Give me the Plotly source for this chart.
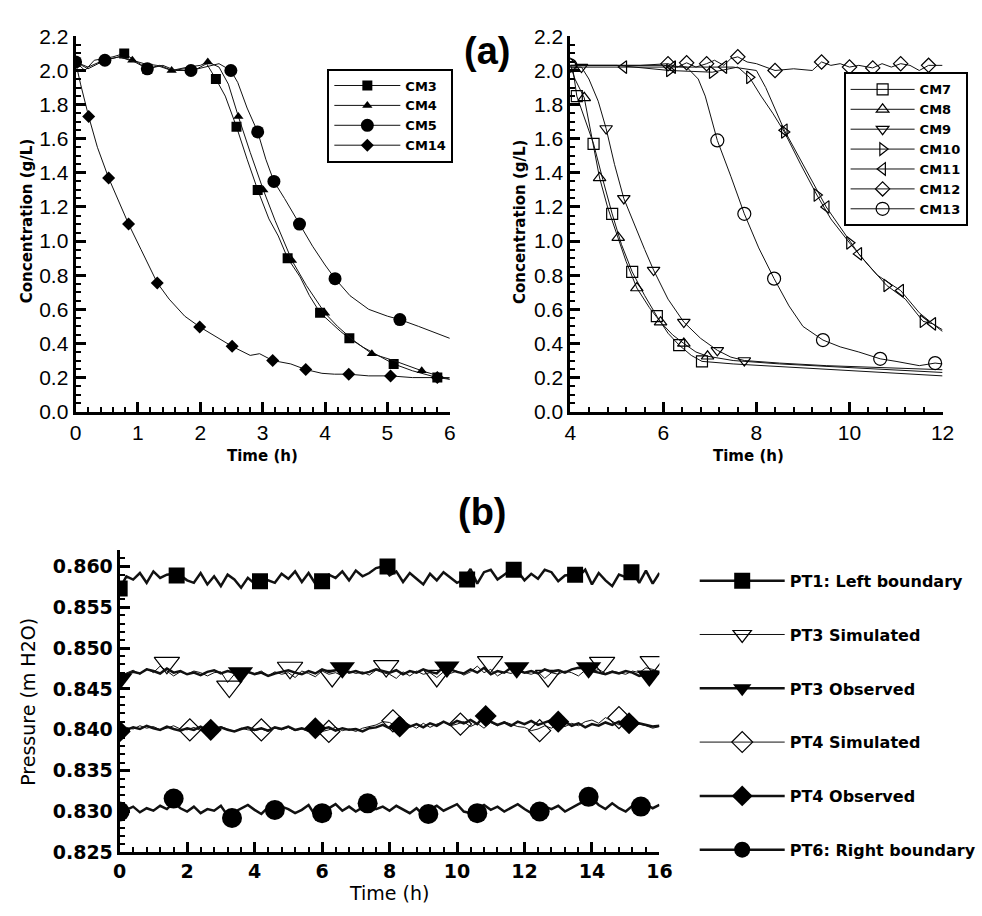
import plotly.graph_objects as go

W, H = 982, 916

# ---------------- (a) left panel: CM3, CM4, CM5, CM14 ----------------
cm3_t = [0, 0.15, 0.3, 0.47, 0.6, 0.78, 0.95, 1.15, 1.35, 1.55, 1.75, 1.9, 2.1, 2.25, 2.4, 2.58, 2.75,
         2.92, 3.1, 3.25, 3.4, 3.6, 3.75, 3.92, 4.1, 4.25, 4.39, 4.6, 4.85, 5.1, 5.4, 5.8, 6.0]
cm3_c = [2.05, 2.0, 2.06, 2.07, 2.08, 2.10, 2.06, 2.01, 2.03, 2.0, 2.01, 2.0, 2.04, 1.95, 1.85, 1.67, 1.48,
         1.30, 1.13, 1.03, 0.90, 0.79, 0.68, 0.58, 0.52, 0.47, 0.43, 0.38, 0.33, 0.28, 0.24, 0.20, 0.19]
cm3_mt = [0.78, 1.15, 2.25, 2.58, 2.92, 3.40, 3.92, 4.39, 5.1, 5.8]
cm3_mc = [2.10, 2.01, 1.95, 1.67, 1.30, 0.90, 0.58, 0.43, 0.28, 0.20]

cm4_t = [0, 0.2, 0.45, 0.7, 0.91, 1.1, 1.3, 1.54, 1.8, 2.0, 2.12, 2.3, 2.45, 2.61, 2.8, 3.01, 3.2,
         3.47, 3.7, 4.0, 4.2, 4.45, 4.75, 5.1, 5.55, 5.8, 6.0]
cm4_c = [2.05, 2.02, 2.06, 2.08, 2.06, 2.04, 2.03, 2.0, 2.02, 2.03, 2.05, 2.02, 1.92, 1.73, 1.52, 1.30, 1.12,
         0.886, 0.74, 0.577, 0.50, 0.42, 0.34, 0.30, 0.24, 0.21, 0.19]
cm4_mt = [0.91, 1.54, 2.12, 2.61, 3.01, 3.47, 4.0, 4.75, 5.55]
cm4_mc = [2.06, 2.0, 2.05, 1.73, 1.30, 0.886, 0.577, 0.34, 0.24]

cm5_t = [0, 0.2, 0.47, 0.7, 0.95, 1.15, 1.4, 1.6, 1.85, 2.1, 2.3, 2.49, 2.6, 2.75, 2.92, 3.05, 3.18,
         3.35, 3.59, 3.8, 4.0, 4.16, 4.4, 4.7, 5.0, 5.2, 5.5, 5.8, 6.0]
cm5_c = [2.05, 2.01, 2.06, 2.08, 2.05, 2.01, 2.03, 2.0, 2.0, 2.02, 2.04, 2.0, 1.93, 1.78, 1.64, 1.48, 1.35,
         1.25, 1.10, 0.97, 0.86, 0.78, 0.68, 0.60, 0.56, 0.54, 0.50, 0.46, 0.43]
cm5_mt = [0, 0.47, 1.15, 1.85, 2.49, 2.92, 3.18, 3.59, 4.16, 5.2]
cm5_mc = [2.05, 2.06, 2.01, 2.0, 2.0, 1.64, 1.35, 1.10, 0.78, 0.54]

cm14_t = [0, 0.08, 0.21, 0.35, 0.53, 0.7, 0.85, 1.05, 1.31, 1.5, 1.75, 1.99, 2.2, 2.51, 2.8, 2.95, 3.16,
          3.45, 3.69, 3.95, 4.15, 4.38, 4.7, 5.05, 5.4, 5.8, 6.0]
cm14_c = [2.05, 1.92, 1.73, 1.55, 1.37, 1.23, 1.10, 0.95, 0.755, 0.66, 0.56, 0.497, 0.45, 0.383, 0.33, 0.34,
          0.30, 0.28, 0.247, 0.225, 0.22, 0.22, 0.21, 0.21, 0.20, 0.20, 0.20]
cm14_mt = [0, 0.21, 0.53, 0.85, 1.31, 1.99, 2.51, 3.16, 3.69, 4.38, 5.05, 5.8]
cm14_mc = [2.05, 1.73, 1.37, 1.10, 0.755, 0.497, 0.383, 0.30, 0.247, 0.22, 0.21, 0.20]

# ---------------- (a) right panel: CM7 ... CM13 ----------------
cm7_t = [4, 4.06, 4.14, 4.3, 4.5, 4.7, 4.9, 5.1, 5.33, 5.6, 5.86, 6.1, 6.34, 6.6, 6.83, 7.5, 8.5, 9.5, 10.5, 11.5, 12]
cm7_c = [2.03, 2.0, 1.85, 1.72, 1.57, 1.36, 1.16, 0.98, 0.82, 0.68, 0.56, 0.46, 0.39, 0.33, 0.295, 0.28, 0.265,
         0.25, 0.235, 0.22, 0.21]
cm7_mt = [4.14, 4.5, 4.9, 5.33, 5.86, 6.34, 6.83]
cm7_mc = [1.85, 1.57, 1.16, 0.82, 0.56, 0.39, 0.295]

cm8_t = [4, 4.1, 4.3, 4.45, 4.63, 4.8, 5.03, 5.2, 5.43, 5.7, 5.94, 6.2, 6.44, 6.7, 6.95, 7.5, 8.5, 9.5, 10.5, 11.5, 12]
cm8_c = [2.03, 1.95, 1.84, 1.62, 1.37, 1.20, 1.02, 0.88, 0.725, 0.61, 0.525, 0.45, 0.40, 0.35, 0.325, 0.30, 0.28,
         0.265, 0.25, 0.235, 0.23]
cm8_mt = [4.3, 4.63, 5.03, 5.43, 5.94, 6.44, 6.95]
cm8_mc = [1.84, 1.37, 1.02, 0.725, 0.525, 0.40, 0.325]

cm9_t = [4, 4.24, 4.4, 4.6, 4.77, 4.95, 5.15, 5.4, 5.6, 5.79, 6.1, 6.44, 6.8, 7.16, 7.45, 7.74, 8.5, 9.5, 10.5, 11.5, 12]
cm9_c = [2.02, 2.02, 1.95, 1.82, 1.66, 1.45, 1.25, 1.08, 0.95, 0.83, 0.66, 0.525, 0.43, 0.36, 0.32, 0.30, 0.285,
         0.27, 0.26, 0.25, 0.246]
cm9_mt = [4.24, 4.77, 5.15, 5.79, 6.44, 7.16, 7.74]
cm9_mc = [2.02, 1.66, 1.25, 0.83, 0.525, 0.36, 0.30]

cm10_t = [4, 5, 6.13, 7.05, 7.6, 7.85, 8.1, 8.35, 8.6, 8.95, 9.3, 9.6, 10.0, 10.4, 10.8, 11.2, 11.58, 11.79, 12]
cm10_c = [2.03, 2.03, 2.0, 1.99, 2.02, 1.96, 1.85, 1.75, 1.64, 1.45, 1.27, 1.13, 0.99, 0.86, 0.74, 0.66, 0.53,
          0.515, 0.47]
cm10_mt = [6.13, 7.05, 7.85, 8.6, 9.3, 10.0, 10.8, 11.58]
cm10_mc = [2.0, 1.99, 1.96, 1.64, 1.27, 0.99, 0.74, 0.53]

cm11_t = [4, 5.15, 6.5, 7.5, 8.0, 8.2, 8.6, 9.0, 9.5, 10.2, 10.6, 11.1, 11.5, 11.79, 12]
cm11_c = [2.02, 2.02, 2.02, 2.02, 2.0, 1.9, 1.65, 1.45, 1.20, 0.925, 0.80, 0.71, 0.58, 0.515, 0.48]
cm11_mt = [5.15, 6.2, 7.3, 8.6, 9.5, 10.2, 11.1, 11.79]
cm11_mc = [2.02, 2.02, 2.02, 1.65, 1.20, 0.925, 0.71, 0.515]

cm12_t = [4, 4.5, 5.0, 5.5, 6.1, 6.3, 6.5, 6.7, 6.93, 7.1, 7.3, 7.45, 7.6, 7.8, 8.0, 8.4, 8.8, 9.2, 9.4, 9.6,
          9.8, 10.0, 10.2, 10.5, 10.7, 10.9, 11.1, 11.3, 11.5, 11.7, 12]
cm12_c = [2.03, 2.03, 2.03, 2.03, 2.04, 2.02, 2.045, 2.02, 2.04, 2.06, 2.03, 2.07, 2.08, 2.05, 2.04, 2.0, 2.01,
          2.0, 2.05, 2.03, 2.04, 2.02, 2.03, 2.015, 2.04, 2.02, 2.04, 2.03, 2.0, 2.03, 2.03]
cm12_mt = [4.0, 6.1, 6.5, 6.93, 7.6, 8.4, 9.4, 10.0, 10.5, 11.1, 11.7]
cm12_mc = [2.03, 2.04, 2.045, 2.04, 2.08, 2.0, 2.05, 2.02, 2.015, 2.04, 2.03]

cm13_t = [4, 5, 6, 6.5, 6.75, 6.9, 7.0, 7.16, 7.45, 7.74, 8.05, 8.38, 8.7, 9.0, 9.43, 9.8, 10.2, 10.66, 11.0,
          11.5, 11.84, 12]
cm13_c = [2.03, 2.03, 2.03, 2.02, 1.95, 1.85, 1.75, 1.59, 1.38, 1.16, 0.96, 0.78, 0.62, 0.50, 0.42, 0.38, 0.35,
          0.31, 0.295, 0.27, 0.285, 0.28]
cm13_mt = [4.0, 7.16, 7.74, 8.38, 9.43, 10.66, 11.84]
cm13_mc = [2.03, 1.59, 1.16, 0.78, 0.42, 0.31, 0.285]

# ---------------- (b) pressure records, sampled every 0.2 h ----------------
time_h = [round(i * 0.2, 1) for i in range(81)]

pt1_obs = [0.8573, 0.8588, 0.8584, 0.8592, 0.8580, 0.8594, 0.8586, 0.8590, 0.8591, 0.8589,
           0.8583, 0.8580, 0.8592, 0.8578, 0.8588, 0.8576, 0.8590, 0.8584, 0.8574, 0.8586,
           0.8579, 0.8582, 0.8583, 0.8580, 0.8591, 0.8585, 0.8594, 0.8581, 0.8592, 0.8579,
           0.8582, 0.8590, 0.8586, 0.8594, 0.8583, 0.8595, 0.8588, 0.8592, 0.8598, 0.8600,
           0.8589, 0.8594, 0.8581, 0.8592, 0.8585, 0.8578, 0.8591, 0.8583, 0.8593, 0.8586,
           0.8580, 0.8584, 0.8597, 0.8579, 0.8593, 0.8596, 0.8584, 0.8590, 0.8596, 0.8594,
           0.8583, 0.8591, 0.8585, 0.8596, 0.8593, 0.8582, 0.8589, 0.8590, 0.8588, 0.8596,
           0.8578, 0.8592, 0.8583, 0.8576, 0.8590, 0.8587, 0.8594, 0.8580, 0.8595, 0.8579,
           0.8592]
pt3_sim = [0.8466, 0.8470, 0.8473, 0.8468, 0.8475, 0.8470, 0.8478, 0.8472, 0.8466, 0.8471,
           0.8468, 0.8472, 0.8470, 0.8466, 0.8470, 0.8471, 0.8458, 0.8468, 0.8472, 0.8470,
           0.8469, 0.8472, 0.8466, 0.8471, 0.8468, 0.8470, 0.8464, 0.8472, 0.8469, 0.8465,
           0.8472, 0.8468, 0.8470, 0.8466, 0.8472, 0.8469, 0.8471, 0.8467, 0.8473, 0.8470,
           0.8468, 0.8463, 0.8471, 0.8466, 0.8472, 0.8468, 0.8470, 0.8464, 0.8471, 0.8469,
           0.8472, 0.8467, 0.8471, 0.8478, 0.8470, 0.8474, 0.8466, 0.8471, 0.8469, 0.8473,
           0.8470, 0.8468, 0.8471, 0.8463, 0.8470, 0.8468, 0.8472, 0.8470, 0.8466, 0.8473,
           0.8471, 0.8474, 0.8469, 0.8472, 0.8470, 0.8468, 0.8472, 0.8470, 0.8476, 0.8474,
           0.8471]
pt3_obs = [0.8462, 0.8468, 0.8471, 0.8469, 0.8474, 0.8472, 0.8469, 0.8475, 0.8470, 0.8472,
           0.8468, 0.8470, 0.8467, 0.8471, 0.8473, 0.8469, 0.8472, 0.8470, 0.8470, 0.8471,
           0.8468, 0.8470, 0.8466, 0.8469, 0.8471, 0.8473, 0.8470, 0.8468, 0.8472, 0.8469,
           0.8474, 0.8471, 0.8473, 0.8476, 0.8470, 0.8472, 0.8469, 0.8471, 0.8474, 0.8472,
           0.8470, 0.8473, 0.8468, 0.8472, 0.8470, 0.8474, 0.8471, 0.8469, 0.8477, 0.8474,
           0.8471, 0.8469, 0.8474, 0.8470, 0.8476, 0.8468, 0.8472, 0.8470, 0.8476, 0.8473,
           0.8470, 0.8472, 0.8469, 0.8474, 0.8471, 0.8473, 0.8470, 0.8474, 0.8476, 0.8475,
           0.8472, 0.8470, 0.8468, 0.8471, 0.8469, 0.8472, 0.8470, 0.8466, 0.8468, 0.8472,
           0.8469]
pt4_sim = [0.8400, 0.8403, 0.8401, 0.8405, 0.8402, 0.8404, 0.8400, 0.8402, 0.8405, 0.8401,
           0.8400, 0.8403, 0.8399, 0.8402, 0.8400, 0.8404, 0.8401, 0.8398, 0.8402, 0.8400,
           0.8399, 0.8401, 0.8398, 0.8402, 0.8400, 0.8403, 0.8399, 0.8401, 0.8398, 0.8402,
           0.8398, 0.8400, 0.8403, 0.8399, 0.8401, 0.8398, 0.8402, 0.8404, 0.8406, 0.8410,
           0.8409, 0.8404, 0.8410, 0.8406, 0.8402, 0.8408, 0.8403, 0.8407, 0.8410, 0.8405,
           0.8407, 0.8410, 0.8404, 0.8408, 0.8402, 0.8409, 0.8405, 0.8410, 0.8407, 0.8404,
           0.8403, 0.8399, 0.8401, 0.8405, 0.8402, 0.8407, 0.8404, 0.8408, 0.8405, 0.8410,
           0.8412, 0.8408, 0.8415, 0.8410, 0.8406, 0.8409, 0.8404, 0.8407, 0.8405, 0.8402,
           0.8404]
pt4_obs = [0.8398, 0.8400, 0.8403, 0.8401, 0.8405, 0.8402, 0.8400, 0.8404, 0.8401, 0.8399,
           0.8402, 0.8400, 0.8404, 0.8399, 0.8401, 0.8403, 0.8400, 0.8398, 0.8401, 0.8403,
           0.8400, 0.8402, 0.8399, 0.8403, 0.8401, 0.8404, 0.8400, 0.8402, 0.8399, 0.8402,
           0.8401, 0.8403, 0.8399, 0.8402, 0.8400, 0.8401, 0.8398, 0.8402, 0.8403, 0.8406,
           0.8402, 0.8405, 0.8409, 0.8404, 0.8407, 0.8403, 0.8408, 0.8405, 0.8410, 0.8406,
           0.8411, 0.8408, 0.8412, 0.8407, 0.8417, 0.8410, 0.8406, 0.8409, 0.8405, 0.8410,
           0.8407, 0.8411, 0.8406, 0.8409, 0.8412, 0.8408, 0.8410, 0.8405, 0.8408, 0.8403,
           0.8407, 0.8405, 0.8409, 0.8406, 0.8410, 0.8407, 0.8405, 0.8408, 0.8406, 0.8404,
           0.8405]
pt6_obs = [0.8300, 0.8302, 0.8306, 0.8299, 0.8304, 0.8301, 0.8307, 0.8303, 0.8311, 0.8304,
           0.8300, 0.8306, 0.8298, 0.8303, 0.8301, 0.8307, 0.8295, 0.8299, 0.8304, 0.8308,
           0.8302, 0.8297, 0.8305, 0.8300, 0.8306, 0.8303, 0.8298, 0.8302, 0.8308, 0.8295,
           0.8299, 0.8304, 0.8309, 0.8301, 0.8306, 0.8300, 0.8305, 0.8308, 0.8303, 0.8306,
           0.8301, 0.8307, 0.8302, 0.8298, 0.8304, 0.8296, 0.8303, 0.8307, 0.8301, 0.8305,
           0.8309, 0.8300, 0.8298, 0.8304, 0.8308, 0.8302, 0.8306, 0.8300, 0.8304, 0.8309,
           0.8303, 0.8298, 0.8301, 0.8306, 0.8303, 0.8307, 0.8300, 0.8305, 0.8309, 0.8313,
           0.8316, 0.8308, 0.8303, 0.8310, 0.8304, 0.8300, 0.8307, 0.8305, 0.8309, 0.8304,
           0.8308]

# symbol positions along each pressure record
pt1_mt = [0, 1.69, 4.16, 6.0, 7.94, 10.3, 11.68, 13.5, 15.17]
pt1_mv = [0.8573, 0.8589, 0.8582, 0.8582, 0.8600, 0.8584, 0.8596, 0.8590, 0.8593]
pt3s_mt = [1.4, 3.25, 5.05, 6.3, 7.9, 9.4, 10.98, 12.7, 14.3, 15.8]
pt3s_mv = [0.8482, 0.8453, 0.8476, 0.8466, 0.8478, 0.8466, 0.8483, 0.8466, 0.8482, 0.8483]
pt3o_mt = [0, 3.58, 6.6, 9.7, 11.77, 13.9, 15.7]
pt3o_mv = [0.8462, 0.8470, 0.8476, 0.8477, 0.8476, 0.8476, 0.8466]
pt4s_mt = [2.08, 4.2, 6.2, 8.1, 10.1, 12.45, 14.8]
pt4s_mv = [0.8400, 0.8400, 0.8398, 0.8411, 0.8407, 0.8399, 0.8415]
pt4o_mt = [0, 2.7, 5.8, 8.3, 10.85, 13.0, 15.1]
pt4o_mv = [0.8398, 0.8400, 0.8402, 0.8404, 0.8417, 0.8410, 0.8408]
pt6_mt = [0, 1.6, 3.33, 4.6, 6.0, 7.35, 9.15, 10.6, 12.45, 13.9, 15.45]
pt6_mv = [0.8300, 0.8316, 0.8292, 0.8302, 0.8298, 0.8310, 0.8297, 0.8298, 0.8300, 0.8318, 0.8306]

pressure_ticks = [0.825, 0.830, 0.835, 0.840, 0.845, 0.850, 0.855, 0.860]


def px_x(p):
    return p / W


def px_y(p):
    return 1 - p / H


fig = go.Figure()


def spaced(t, v):
    """Interleave gaps so symbols are not joined to each other."""
    xs, ys = [], []
    for a, b in zip(t, v):
        xs += [a, None]
        ys += [b, None]
    return xs, ys


def add_series(name, t, v, mt, mv, xa, ya, legend, symbol, size, lw, open_sym=False, color="#111"):
    fig.add_trace(go.Scatter(x=t, y=v, mode="lines", xaxis=xa, yaxis=ya,
                             line=dict(color=color, width=lw), showlegend=False, hoverinfo="skip"))
    sx, sy = spaced(mt, mv)
    if open_sym:
        mk = dict(symbol=symbol + "-open", size=size, color="black", line=dict(color="black", width=1.2))
    else:
        mk = dict(symbol=symbol, size=size, color="black", line=dict(width=0))
    fig.add_trace(go.Scatter(
        x=sx, y=sy, mode="lines+markers", name=name, xaxis=xa, yaxis=ya, legend=legend,
        legendgroup=name, connectgaps=False,
        line=dict(color=color, width=lw), marker=mk))


# (a) left
add_series("CM3", cm3_t, cm3_c, cm3_mt, cm3_mc, "x", "y", "legend", "square", 10, 1)
add_series("CM4", cm4_t, cm4_c, cm4_mt, cm4_mc, "x", "y", "legend", "triangle-up", 9, 1)
add_series("CM5", cm5_t, cm5_c, cm5_mt, cm5_mc, "x", "y", "legend", "circle", 13, 1)
add_series("CM14", cm14_t, cm14_c, cm14_mt, cm14_mc, "x", "y", "legend", "diamond", 10, 1)

# (a) right
add_series("CM7", cm7_t, cm7_c, cm7_mt, cm7_mc, "x2", "y2", "legend2", "square", 11, 1, True)
add_series("CM8", cm8_t, cm8_c, cm8_mt, cm8_mc, "x2", "y2", "legend2", "triangle-up", 11, 1, True)
add_series("CM9", cm9_t, cm9_c, cm9_mt, cm9_mc, "x2", "y2", "legend2", "triangle-down", 11, 1, True)
add_series("CM10", cm10_t, cm10_c, cm10_mt, cm10_mc, "x2", "y2", "legend2", "triangle-right", 11, 1, True)
add_series("CM11", cm11_t, cm11_c, cm11_mt, cm11_mc, "x2", "y2", "legend2", "triangle-left", 11, 1, True)
add_series("CM12", cm12_t, cm12_c, cm12_mt, cm12_mc, "x2", "y2", "legend2", "diamond", 11, 1, True)
add_series("CM13", cm13_t, cm13_c, cm13_mt, cm13_mc, "x2", "y2", "legend2", "circle", 13, 1, True)

# (b)
add_series("PT1: Left boundary", time_h, pt1_obs, pt1_mt, pt1_mv, "x3", "y3", "legend3", "square", 16, 2.5)
add_series("PT3 Simulated", time_h, pt3_sim, pt3s_mt, pt3s_mv, "x3", "y3", "legend3", "triangle-down", 22, 1, True)
add_series("PT3 Observed", time_h, pt3_obs, pt3o_mt, pt3o_mv, "x3", "y3", "legend3", "triangle-down", 22, 2.5)
add_series("PT4 Simulated", time_h, pt4_sim, pt4s_mt, pt4s_mv, "x3", "y3", "legend3", "diamond", 17, 1, True)
add_series("PT4 Observed", time_h, pt4_obs, pt4o_mt, pt4o_mv, "x3", "y3", "legend3", "diamond", 17, 2.5)
add_series("PT6: Right boundary", time_h, pt6_obs, pt6_mt, pt6_mv, "x3", "y3", "legend3", "circle", 20, 2.5)

top_tick_font = dict(family="Liberation Sans, Arial, sans-serif", size=21, color="black")
bot_tick_font = dict(family="DejaVu Sans, sans-serif", size=19, color="black", weight="bold")

axis_common = dict(showline=True, linewidth=3, linecolor="black", showgrid=False, zeroline=False,
                   ticks="inside", tickwidth=2.5, tickcolor="black", mirror=False)

legend_font_top = dict(family="DejaVu Sans, sans-serif", size=13, color="black", weight="bold")

fig.update_layout(
    width=W, height=H, margin=dict(l=0, r=0, t=0, b=0),
    paper_bgcolor="white", plot_bgcolor="white",
    xaxis=dict(domain=[px_x(70), px_x(452)], range=[0, 6], dtick=1, ticklen=10, anchor="y",
               tickfont=top_tick_font,
               minor=dict(dtick=0.2, ticklen=5, tickwidth=2, ticks="inside", tickcolor="black"),
               **axis_common),
    yaxis=dict(domain=[px_y(410), px_y(25)], range=[0, 2.2], dtick=0.2, tickformat=".1f", ticklen=10,
               anchor="x", tickfont=top_tick_font,
               minor=dict(dtick=0.05, ticklen=5, tickwidth=2, ticks="inside", tickcolor="black"),
               **axis_common),
    xaxis2=dict(domain=[px_x(575), px_x(955)], range=[4, 12], dtick=2, ticklen=10, anchor="y2",
                tickfont=top_tick_font,
                minor=dict(dtick=0.4, ticklen=5, tickwidth=2, ticks="inside", tickcolor="black"),
                **axis_common),
    yaxis2=dict(domain=[px_y(410), px_y(25)], range=[0, 2.2], dtick=0.2, tickformat=".1f", ticklen=10,
                anchor="x2", tickfont=top_tick_font,
                minor=dict(dtick=0.05, ticklen=5, tickwidth=2, ticks="inside", tickcolor="black"),
                **axis_common),
    xaxis3=dict(domain=[px_x(115), px_x(666)], range=[0, 16], dtick=2, ticklen=10, anchor="y3",
                tickfont=bot_tick_font,
                minor=dict(dtick=0.4, ticklen=5, tickwidth=2, ticks="inside", tickcolor="black"),
                **axis_common),
    yaxis3=dict(domain=[px_y(862), px_y(552)], range=[0.825, 0.862], tickvals=pressure_ticks,
                tickformat=".3f", ticklen=10, anchor="x3", tickfont=bot_tick_font,
                minor=dict(dtick=0.001, ticklen=5, tickwidth=2, ticks="inside", tickcolor="black"),
                **axis_common),
    legend=dict(x=px_x(327), y=px_y(58), xanchor="left", yanchor="top", bgcolor="white",
                bordercolor="black", borderwidth=2, tracegroupgap=0, itemwidth=66,
                font=legend_font_top),
    legend2=dict(x=px_x(854), y=px_y(62), xanchor="left", yanchor="top", bgcolor="white",
                 bordercolor="black", borderwidth=2, tracegroupgap=0, itemwidth=64,
                 font=legend_font_top),
    legend3=dict(x=px_x(702), y=px_y(566), xanchor="left", yanchor="top", bgcolor="rgba(0,0,0,0)",
                 borderwidth=0, tracegroupgap=30, itemwidth=85,
                 font=dict(family="DejaVu Sans, sans-serif", size=16, color="black", weight="bold")),
)

title_bold = dict(family="DejaVu Sans, sans-serif", size=15, color="black", weight="bold")
title_reg = dict(family="DejaVu Sans, sans-serif", size=19, color="black")
label_font = dict(family="Liberation Sans Narrow, Liberation Sans, Arial, sans-serif", size=38,
                  color="black", weight="bold")

annotations = [
    dict(text="Concentration (g/L)", x=px_x(20), y=px_y(215), textangle=-90, font=title_bold),
    dict(text="Concentration (g/L)", x=px_x(523), y=px_y(215), textangle=-90, font=title_bold),
    dict(text="Time (h)", x=px_x(261), y=px_y(455), font=title_bold),
    dict(text="Time (h)", x=px_x(757), y=px_y(455), font=title_bold),
    dict(text="Pressure (m H2O)", x=px_x(22), y=px_y(708), textangle=-90, font=title_reg),
    dict(text="Time (h)", x=px_x(390), y=px_y(905), font=title_reg, yanchor="middle"),
    dict(text="(a)", x=px_x(490), y=px_y(40), font=label_font),
    dict(text="(b)", x=px_x(485), y=px_y(513), font=label_font),
]
for a in annotations:
    a.update(xref="paper", yref="paper", showarrow=False, xanchor="center", yanchor="middle")
# the bottom time label sits just under the tick labels
annotations[5].update(y=px_y(916), yanchor="bottom", borderpad=0)
fig.update_layout(annotations=annotations)

fig.write_html("out.html")
